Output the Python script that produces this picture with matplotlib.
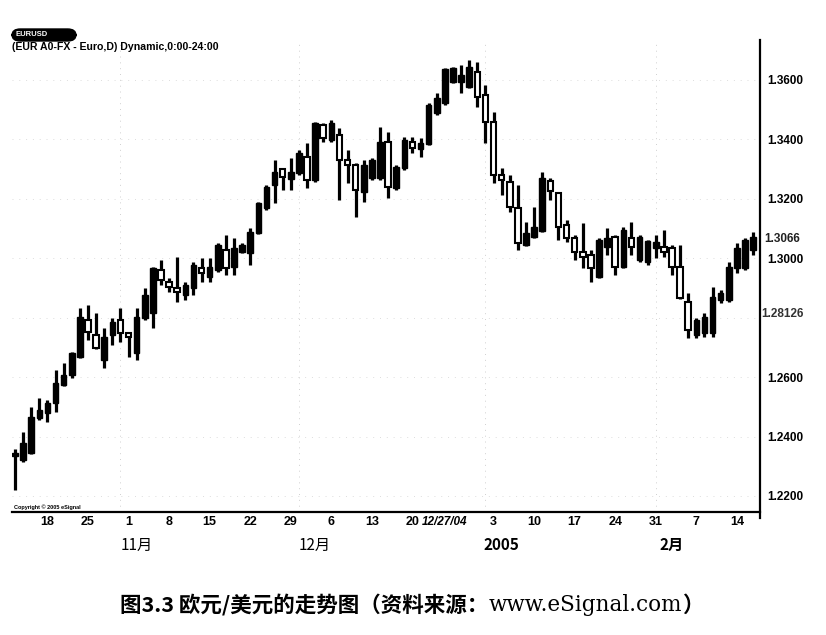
import numpy as np
import pandas as pd
import matplotlib
matplotlib.use('Agg')
import matplotlib.pyplot as plt
from matplotlib.patches import FancyBboxPatch

plt.rcParams['font.family'] = ['Liberation Sans', 'Noto Sans CJK SC', 'DejaVu Sans']

# EUR/USD daily, 2004-10-12 .. 2005-02-16 (weekdays)
dates = pd.bdate_range('2004-10-12', '2005-02-16')

opens = [1.2335, 1.2321, 1.2345, 1.2463, 1.2479, 1.2513, 1.2573, 1.2607, 1.2668, 1.2792,
         1.2742, 1.2658, 1.2742, 1.2792, 1.2748, 1.2681, 1.2799, 1.2816, 1.2961, 1.2920,
         1.2900, 1.2876, 1.2900, 1.2967, 1.2937, 1.2961, 1.3028, 1.2971, 1.3021, 1.3018,
         1.3085, 1.3169, 1.3246, 1.3300, 1.3267, 1.3287, 1.3341, 1.3263, 1.3449, 1.3398,
         1.3415, 1.3331, 1.3314, 1.3223, 1.3270, 1.3270, 1.3391, 1.3236, 1.3304, 1.3391,
         1.3368, 1.3385, 1.3489, 1.3523, 1.3593, 1.3593, 1.3576, 1.3627, 1.3550, 1.3459,
         1.3280, 1.3257, 1.3169, 1.3045, 1.3071, 1.3092, 1.3260, 1.3220, 1.3112, 1.3068,
         1.3021, 1.3011, 1.2937, 1.3038, 1.3071, 1.2971, 1.3068, 1.2994, 1.2987, 1.3035,
         1.3038, 1.3035, 1.2971, 1.2853, 1.2742, 1.2748, 1.2748, 1.2860, 1.2860, 1.2967,
         1.2967, 1.3028]
highs = [1.2358, 1.2415, 1.2499, 1.2530, 1.2523, 1.2624, 1.2647, 1.2684, 1.2833, 1.2843,
         1.2816, 1.2765, 1.2799, 1.2833, 1.2752, 1.2833, 1.2900, 1.2971, 1.2994, 1.2934,
         1.3004, 1.2920, 1.2987, 1.3001, 1.3001, 1.3051, 1.3078, 1.3068, 1.3051, 1.3102,
         1.3189, 1.3246, 1.3331, 1.3304, 1.3338, 1.3364, 1.3388, 1.3459, 1.3455, 1.3465,
         1.3438, 1.3364, 1.3321, 1.3331, 1.3338, 1.3442, 1.3425, 1.3314, 1.3408, 1.3408,
         1.3405, 1.3523, 1.3556, 1.3640, 1.3644, 1.3650, 1.3667, 1.3661, 1.3583, 1.3492,
         1.3304, 1.3280, 1.3247, 1.3122, 1.3172, 1.3290, 1.3270, 1.3223, 1.3129, 1.3078,
         1.3119, 1.3028, 1.3068, 1.3102, 1.3078, 1.3105, 1.3122, 1.3078, 1.3061, 1.3078,
         1.3095, 1.3044, 1.3044, 1.2883, 1.2799, 1.2816, 1.2903, 1.2893, 1.2987, 1.3051,
         1.3068, 1.3088]
lows = [1.2220, 1.2315, 1.2340, 1.2456, 1.2449, 1.2483, 1.2570, 1.2597, 1.2665, 1.2725,
        1.2695, 1.2631, 1.2708, 1.2718, 1.2668, 1.2658, 1.2792, 1.2765, 1.2910, 1.2887,
        1.2853, 1.2860, 1.2876, 1.2920, 1.2920, 1.2954, 1.2944, 1.2944, 1.3018, 1.2977,
        1.3082, 1.3162, 1.3186, 1.3230, 1.3230, 1.3280, 1.3236, 1.3257, 1.3391, 1.3391,
        1.3196, 1.3253, 1.3139, 1.3189, 1.3263, 1.3263, 1.3203, 1.3230, 1.3297, 1.3354,
        1.3341, 1.3381, 1.3482, 1.3516, 1.3590, 1.3556, 1.3573, 1.3509, 1.3388, 1.3253,
        1.3213, 1.3156, 1.3028, 1.3041, 1.3068, 1.3088, 1.3196, 1.3060, 1.3055, 1.2994,
        1.2967, 1.2920, 1.2934, 1.3011, 1.2944, 1.2967, 1.3011, 1.2987, 1.2977, 1.3001,
        1.3004, 1.2944, 1.2863, 1.2732, 1.2732, 1.2735, 1.2735, 1.2850, 1.2853, 1.2950,
        1.2961, 1.3011]
closes = [1.2345, 1.2378, 1.2466, 1.2489, 1.2513, 1.2580, 1.2607, 1.2681, 1.2802, 1.2752,
          1.2698, 1.2735, 1.2786, 1.2748, 1.2735, 1.2802, 1.2876, 1.2967, 1.2927, 1.2903,
          1.2887, 1.2910, 1.2977, 1.2950, 1.2971, 1.3045, 1.2967, 1.3035, 1.3045, 1.3088,
          1.3186, 1.3240, 1.3290, 1.3273, 1.3290, 1.3354, 1.3263, 1.3455, 1.3405, 1.3455,
          1.3331, 1.3314, 1.3230, 1.3314, 1.3331, 1.3391, 1.3240, 1.3307, 1.3398, 1.3371,
          1.3388, 1.3516, 1.3539, 1.3637, 1.3640, 1.3617, 1.3644, 1.3543, 1.3459, 1.3280,
          1.3263, 1.3172, 1.3051, 1.3085, 1.3105, 1.3270, 1.3225, 1.3105, 1.3068, 1.3021,
          1.3004, 1.2967, 1.3061, 1.3068, 1.2971, 1.3095, 1.3038, 1.3071, 1.3058, 1.3055,
          1.3021, 1.2971, 1.2866, 1.2759, 1.2792, 1.2802, 1.2870, 1.2883, 1.2971, 1.3035,
          1.3061, 1.3071]

yticks = [1.22, 1.24, 1.26, 1.28, 1.30, 1.32, 1.34, 1.36]
months = ['11月', '12月', '2005', '2月']
last_price = 1.3066
cursor_price = 1.2813

o = np.array(opens)
h = np.array(highs)
l = np.array(lows)
c = np.array(closes)
x = np.arange(len(dates))
up = c >= o

fig = plt.figure(figsize=(8.26, 6.35), dpi=100)
ax = fig.add_axes([12 / 826, 123 / 635, 748 / 826, 472 / 635])

# very faint dotted grid: price levels and month ends
for yv in yticks:
    ax.axhline(yv, color='#dddddd', lw=0.7, ls=(0, (1, 6)), zorder=0)
month_end = [i for i in range(len(dates) - 1) if dates[i].month != dates[i + 1].month]
for i in month_end:
    ax.axvline(i, color='#d0d0d0', lw=0.7, ls=(0, (1, 5)), zorder=0)

# candles: black = close above open, hollow = close below open
w = 0.68
ax.vlines(x, l, h, color='black', lw=2.3, zorder=2)
body_lo = np.minimum(o, c)
body_h = np.maximum(np.abs(c - o), 0.0004)
ax.bar(x[up], body_h[up], w, bottom=body_lo[up], color='black', edgecolor='black', lw=1.0, zorder=3)
ax.bar(x[~up], body_h[~up], w, bottom=body_lo[~up], color='white', edgecolor='black', lw=1.5, zorder=3)

ax.set_xlim(-0.37, 91.85)
ax.set_ylim(1.2146, 1.37346)

for s in ['top', 'left']:
    ax.spines[s].set_visible(False)
ax.spines['bottom'].set_linewidth(1.6)
ax.spines['right'].set_linewidth(1.6)
ax.spines['right'].set_bounds(1.2125, 1.3735)

# right price scale; the 1.2800 label is covered by the cursor marker
ax.yaxis.tick_right()
ax.set_yticks(yticks)
ax.set_yticklabels(['' if abs(v - 1.28) < 1e-9 else '%.4f' % v for v in yticks],
                   fontsize=8.5, fontweight='bold')
ax.tick_params(axis='y', length=0, pad=5)

mondays = [i for i, d in enumerate(dates) if d.weekday() == 0]
i27 = [i for i in mondays if dates[i].month == 12 and dates[i].day == 27][0]
mlabels = ['' if i == i27 else str(dates[i].day) for i in mondays]
ax.set_xticks(mondays)
ax.set_xticklabels(mlabels, fontsize=9, fontweight='bold')
ax.tick_params(axis='x', length=0, pad=3)
xtr = ax.get_xaxis_transform()
ax.text(i27 - 1.1, -0.0085, '12/27/04', transform=xtr, ha='center', va='top',
        fontsize=8.5, fontweight='bold', style='italic')

# month captions under the date axis
firsts = [i for i in range(1, len(dates)) if dates[i].month != dates[i - 1].month]
for i, m in zip(firsts, months):
    ax.text(i + 1, -0.07, m, transform=xtr, ha='center', va='center',
            fontsize=11, fontweight='bold' if m in ('2005', '2月') else 'normal',
            family=['Noto Sans CJK SC', 'DejaVu Sans'])

# price markers on the right axis
ytr = ax.get_yaxis_transform()
ax.text(1.006, last_price, '%.4f' % last_price, transform=ytr, ha='left', va='center',
        fontsize=8.5, fontweight='bold', color='#222222')
ax.text(1.002, cursor_price, '%.5f' % (cursor_price - 0.00004), transform=ytr,
        ha='left', va='center', fontsize=8.5, fontweight='bold', color='#333333')

# header
fig.patches.append(FancyBboxPatch((12 / 826, 1 - 41 / 635), 64 / 826, 12 / 635,
                                  boxstyle='round,pad=0,rounding_size=0.01',
                                  transform=fig.transFigure, color='black'))
fig.text(16 / 826, 1 - 35 / 635, 'EURUSD', color='white', fontsize=5.5,
         fontweight='bold', va='center')
fig.text(12 / 826, 1 - 46.5 / 635, '(EUR A0-FX - Euro,D) Dynamic,0:00-24:00',
         fontsize=7.6, fontweight='bold', va='center')
fig.text(14 / 826, 1 - 507 / 635, 'Copyright © 2005 eSignal', fontsize=4,
         fontweight='bold', va='center')

# caption
fig.canvas.draw()
r = fig.canvas.get_renderer()
parts = [('图3.3 欧元/美元的走势图（资料来源：', ['Noto Sans CJK SC', 'DejaVu Sans'], 'bold'),
         ('www.eSignal.com', ['DejaVu Serif'], 'normal'),
         ('）', ['Noto Sans CJK SC'], 'bold')]
texts = []
widths = []
for s, fam, fw in parts:
    t = fig.text(0, 1 - 605 / 635, s, fontsize=15.5, family=fam, fontweight=fw,
                 va='center', ha='left')
    texts.append(t)
    widths.append(t.get_window_extent(renderer=r).width)
x0 = 412 - sum(widths) / 2
for t, wd in zip(texts, widths):
    t.set_x(x0 / 826)
    x0 += wd

fig.savefig('out.png', dpi=100)
